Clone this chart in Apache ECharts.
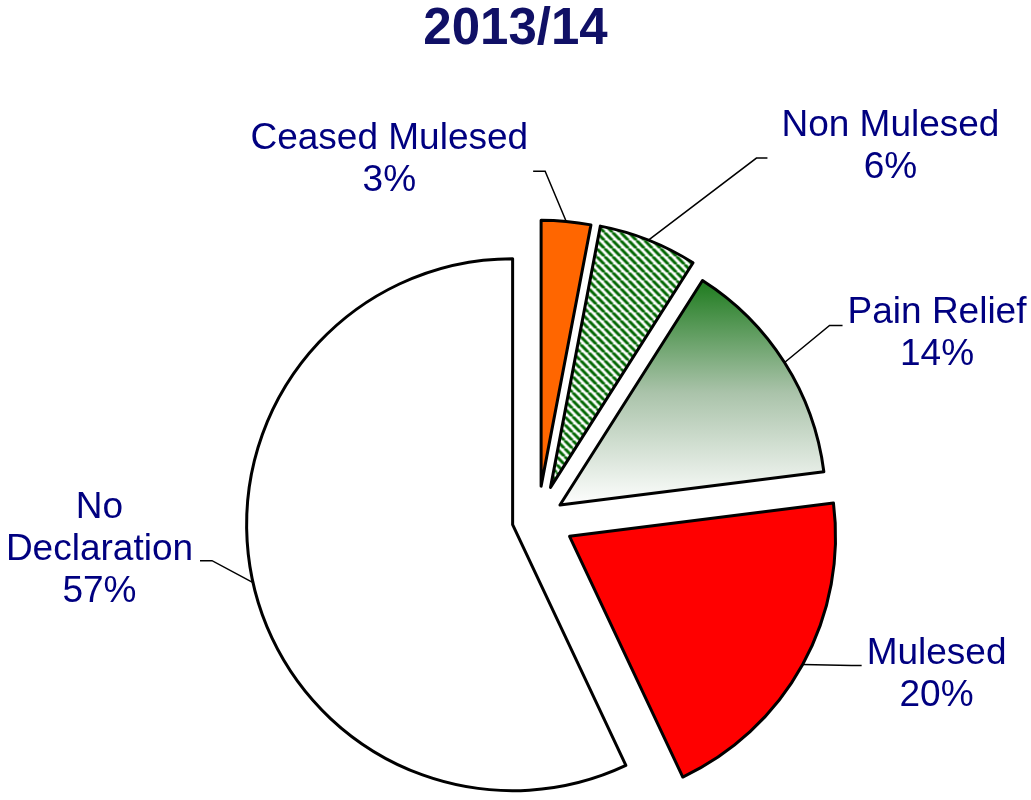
<!DOCTYPE html>
<html>
<head>
<meta charset="utf-8">
<script src="https://cdn.jsdelivr.net/npm/echarts@6/dist/echarts.min.js"></script>
<style>
  html, body { margin: 0; padding: 0; background: #fff; }
  #chart { width: 1031px; height: 800px; }
</style>
</head>
<body>
<div id="chart"></div>
<script>
// data
const categories = ['Ceased Mulesed', 'Non Mulesed', 'Pain Relief', 'Mulesed', 'No\nDeclaration'];
const shares = [3, 6, 14, 20, 57];
const chartTitle = '2013/14';

const pieCenter = [538, 519];
const pieRadius = 266;
// how far each slice is pulled out
const explodeBy = [33, 34, 26, 36, 26];

// hatch for "Non Mulesed"
function makeHatch() {
  const s = 8;
  const c = document.createElement('canvas');
  c.width = s; c.height = s;
  const ctx = c.getContext('2d');
  ctx.fillStyle = '#fff';
  ctx.fillRect(0, 0, s, s);
  ctx.strokeStyle = '#006600';
  ctx.lineWidth = 3;
  [-s, 0, s].forEach(function (o) {
    ctx.beginPath();
    ctx.moveTo(o, 0);
    ctx.lineTo(o + s, s);
    ctx.stroke();
  });
  return c;
}

const fills = [
  '#ff6600',
  { image: makeHatch(), repeat: 'repeat' },
  new echarts.graphic.LinearGradient(0, 0, 0, 1, [
    { offset: 0, color: '#1c7a1c' },
    { offset: 0.5, color: '#aac3aa' },
    { offset: 1, color: '#ffffff' }
  ]),
  '#ff0000',
  '#ffffff'
];

// label line: elbow / end relative to the (exploded) anchor, gap and vertical shift of the text
const labelOffsets = [
  { elbow: [-21, -50], end: [-33, -50], side: -1, gap: 5, dy: -12 },
  { elbow: [108, -82], end: [119, -82], side: 1, gap: 14, dy: -11 },
  { elbow: [45, -37], end: [58, -37], side: 1, gap: 5, dy: 8 },
  { elbow: [49, 1], end: [59, 1], side: 1, gap: 5, dy: 9 },
  { elbow: [-41, -22], end: [-53, -22], side: -1, gap: 7, dy: -11 }
];

const font = 'Liberation Sans, Arial, sans-serif';
const hidden = { color: 'rgba(0,0,0,0)', borderWidth: 0 };
const myChart = echarts.init(document.getElementById('chart'));

// one series per slice so each slice gets its own explode distance
const sliceSeries = categories.map(function (name, k) {
  return {
    type: 'pie',
    center: pieCenter,
    radius: pieRadius,
    startAngle: 90,
    clockwise: true,
    silent: true,
    selectedMode: 'multiple',
    selectedOffset: explodeBy[k],
    emphasis: { disabled: true },
    label: { show: false },
    labelLine: { show: false },
    data: shares.map(function (v, i) {
      const style = i === k ? { color: fills[i], borderColor: '#000', borderWidth: 3 } : hidden;
      return { name: categories[i], value: v, selected: i === k, itemStyle: style, select: { itemStyle: style } };
    })
  };
});

const labelSeries = {
  type: 'pie',
  center: pieCenter,
  radius: pieRadius,
  startAngle: 90,
  clockwise: true,
  silent: true,
  avoidLabelOverlap: false,
  emphasis: { disabled: true },
  itemStyle: hidden,
  label: {
    show: true,
    position: 'outside',
    formatter: '{b}\n{d}%',
    fontFamily: font,
    fontSize: 37,
    lineHeight: 42,
    color: '#000080',
    align: 'center'
  },
  labelLine: {
    show: true,
    length: 30,
    length2: 12,
    lineStyle: { color: '#000', width: 1.5 }
  },
  labelLayout: function (p) {
    const i = p.dataIndex;
    const o = labelOffsets[i];
    const a0 = p.labelLinePoints[0];
    const vx = a0[0] - pieCenter[0], vy = a0[1] - pieCenter[1];
    const len = Math.sqrt(vx * vx + vy * vy);
    const a = [a0[0] + vx / len * explodeBy[i], a0[1] + vy / len * explodeBy[i]];
    const e = [a[0] + o.end[0], a[1] + o.end[1]];
    const w = p.labelRect.width;
    return {
      x: e[0] + o.side * (o.gap + w / 2),
      y: e[1] + o.dy,
      align: 'center',
      verticalAlign: 'middle',
      labelLinePoints: [a, [a[0] + o.elbow[0], a[1] + o.elbow[1]], e]
    };
  },
  data: shares.map(function (v, i) {
    return { name: categories[i], value: v };
  })
};

const option = {
  animation: false,
  title: {
    text: chartTitle,
    left: 'center',
    top: -1,
    textStyle: { fontFamily: font, fontSize: 51, fontWeight: 'bold', color: '#101066' }
  },
  series: sliceSeries.concat([labelSeries])
};

myChart.setOption(option);
</script>
</body>
</html>
